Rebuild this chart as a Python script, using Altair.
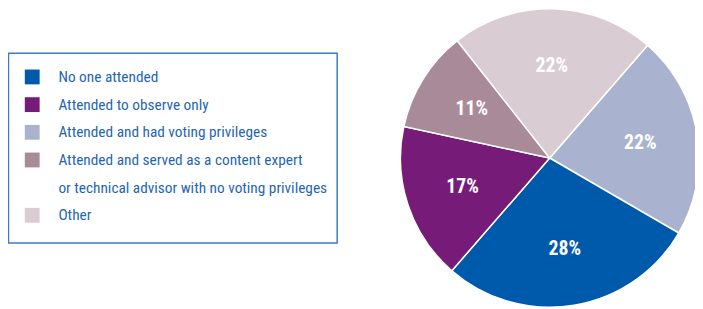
import altair as alt
import pandas as pd

# data (clockwise from ~41 degrees)
categories = [
    "Attended and had voting privileges",
    "No one attended",
    "Attended to observe only",
    "Attended and served as a content expert or technical advisor with no voting privileges",
    "Other",
]
values = [22, 28, 17, 11, 22]
colors = ["#a9b3cf", "#005aab", "#761c78", "#a98a98", "#d9ccd3"]

legend_order = [
    "No one attended",
    "Attended to observe only",
    "Attended and had voting privileges",
    "Attended and served as a content expert or technical advisor with no voting privileges",
    "Other",
]
legend_rows = [0, 1, 2, 3, 5]
legend_lines = [
    "No one attended",
    "Attended to observe only",
    "Attended and had voting privileges",
    "Attended and served as a content expert",
    "or technical advisor with no voting privileges",
    "Other",
]
legend_line_rows = [0, 1, 2, 3, 4, 5]

FONT = "Roboto Condensed, Liberation Sans Narrow, DejaVu Sans Condensed, sans-serif"
TEXT_BLUE = "#1f66b2"

pie_df = pd.DataFrame({"category": categories, "value": values,
                       "order": list(range(len(categories))),
                       "label": [f"{v}%" for v in values]})
sym_df = pd.DataFrame({"category": legend_order, "row": legend_rows})
txt_df = pd.DataFrame({"line": legend_lines, "row": legend_line_rows})
box_df = pd.DataFrame({"k": [0]})

start = 0.715
theta_scale = alt.Scale(range=[start, start + 6.283185307])
color_scale = alt.Scale(domain=categories, range=colors)

cx, cy, R = 548, 150, 151

base = alt.Chart(pie_df).encode(
    theta=alt.Theta("value:Q", stack=True, scale=theta_scale),
    order=alt.Order("order:Q"),
)
arcs = base.mark_arc(outerRadius=R, stroke="white", strokeWidth=1.5).encode(
    color=alt.Color("category:N", scale=color_scale, legend=None),
    x=alt.value(cx), y=alt.value(cy),
)
labels = base.mark_text(radius=93, font=FONT, fontSize=20, fontWeight="bold",
                        color="white").encode(
    text="label:N", x=alt.value(cx), y=alt.value(cy),
)

row_scale = alt.Scale(domain=[0, 5], range=[68, 208])

box = alt.Chart(box_df).mark_rect(fill=None, stroke="#3d7cc0", strokeWidth=1.5).encode(
    x=alt.value(0.5), x2=alt.value(333), y=alt.value(44), y2=alt.value(236),
)
symbols = alt.Chart(sym_df).mark_square(size=225, opacity=1).encode(
    x=alt.value(24.5),
    y=alt.Y("row:Q", scale=row_scale, axis=None),
    color=alt.Color("category:N", scale=color_scale, legend=None),
)
texts = alt.Chart(txt_df).mark_text(align="left", baseline="middle", font=FONT,
                                    fontSize=15.5, color=TEXT_BLUE).encode(
    x=alt.value(51),
    y=alt.Y("row:Q", scale=row_scale, axis=None),
    text="line:N",
)

chart = alt.layer(arcs, labels, box, symbols, texts).properties(
    width=695, height=301, padding=0, background="white",
    autosize=alt.AutoSizeParams(type="none"),
).configure_view(strokeWidth=0, stroke="transparent")

chart.save("out.html", embed_options={"renderer": "svg", "actions": False})
